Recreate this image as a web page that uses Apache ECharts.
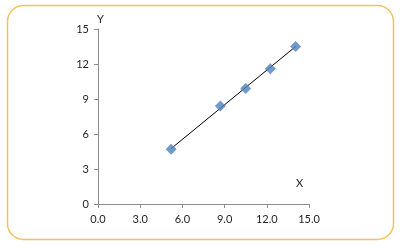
<!DOCTYPE html>
<html>
<head>
<meta charset="utf-8">
<script src="https://cdn.jsdelivr.net/npm/echarts@6/dist/echarts.min.js"></script>
<style>
html,body{margin:0;padding:0;background:#fff;}
#c{width:400px;height:248px;}
</style>
</head>
<body>
<div id="c"></div>
<script>
var xValues = [5.2, 8.7, 10.5, 12.25, 14.05];
var yValues = [4.7, 8.4, 9.9, 11.6, 13.5];
var trendX = [5.2, 14.05];
var trendY = [4.75, 13.5];
var xTicks = ['0.0', '3.0', '6.0', '9.0', '12.0', '15.0'];
var yTicks = ['0', '3', '6', '9', '12', '15'];

var chart = echarts.init(document.getElementById('c'), null, {renderer: 'canvas'});
var font = 'Lato';
var txt = '#1f1f1f';
var axisCol = '#8c8c8c';
chart.setOption({
  animation: false,
  graphic: [{
    type: 'rect',
    shape: {x: 7.5, y: 5.5, width: 386, height: 234, r: 16},
    style: {fill: 'none', stroke: '#F0C35C', lineWidth: 1.5},
    z: 0
  }, {
    type: 'text', left: 97, top: 14,
    style: {text: 'Y', fill: txt, font: '11px ' + font}
  }, {
    type: 'text', left: 296, top: 178,
    style: {text: 'X', fill: txt, font: '11px ' + font}
  }],
  grid: {left: 98, right: 91, top: 29, bottom: 44, containLabel: false},
  xAxis: {
    type: 'value', min: 0, max: 15, interval: 3,
    axisLine: {show: true, onZero: false, lineStyle: {color: axisCol, width: 1}},
    axisTick: {show: true, length: 4, lineStyle: {color: axisCol}},
    splitLine: {show: false},
    axisLabel: {
      color: txt, fontFamily: font, fontSize: 11, margin: 10,
      formatter: function (v) { return xTicks[Math.round(v / 3)]; }
    }
  },
  yAxis: {
    type: 'value', min: 0, max: 15, interval: 3,
    axisLine: {show: true, onZero: false, lineStyle: {color: axisCol, width: 1}},
    axisTick: {show: true, length: 4, lineStyle: {color: axisCol}},
    splitLine: {show: false},
    axisLabel: {
      color: txt, fontFamily: font, fontSize: 11, margin: 9,
      formatter: function (v) { return yTicks[Math.round(v / 3)]; }
    }
  },
  series: [{
    type: 'line',
    data: trendX.map(function (x, i) { return [x, trendY[i]]; }),
    showSymbol: false,
    lineStyle: {color: '#000', width: 1},
    z: 2
  }, {
    type: 'scatter',
    data: xValues.map(function (x, i) { return [x, yValues[i]]; }),
    symbol: 'diamond',
    symbolSize: [11, 11],
    itemStyle: {color: '#4F81BD'},
    z: 3
  }]
});
</script>
</body>
</html>
